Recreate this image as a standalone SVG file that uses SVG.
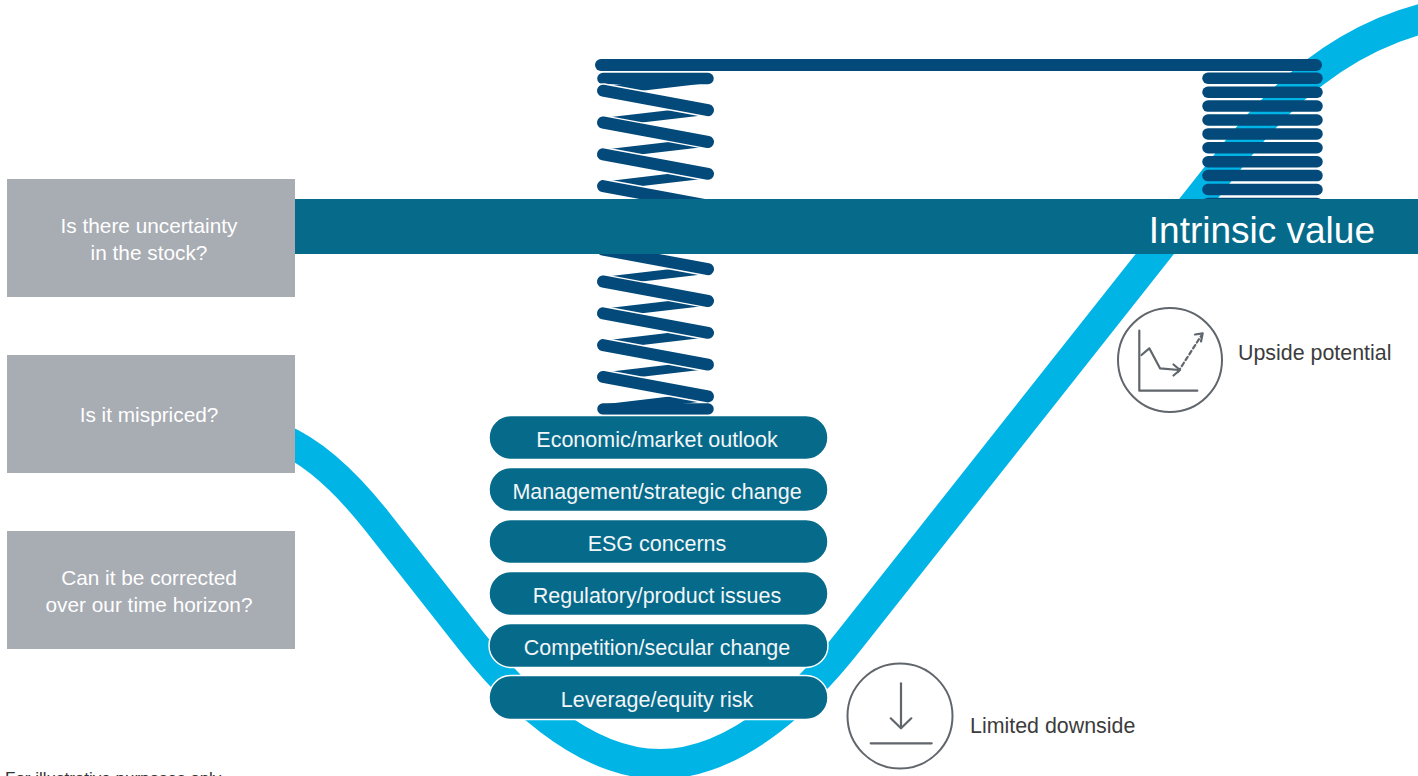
<svg xmlns="http://www.w3.org/2000/svg" width="1418" height="776" viewBox="0 0 1418 776">
  <style>
    .q { fill: #a8acb3; }
    .qt { font-family: "Liberation Sans", Arial, sans-serif; font-size: 20.8px; fill: #ffffff; text-anchor: middle; }
    .pill { fill: #066a8b; stroke: #ffffff; stroke-width: 1.5; }
    .pt { font-family: "Liberation Sans", Arial, sans-serif; font-size: 21.5px; fill: #f2f6f8; text-anchor: middle; }
    .front { stroke: #034a7a; stroke-width: 12; stroke-linecap: round; fill: none; }
    .halo { stroke: #ffffff; stroke-width: 15; stroke-linecap: round; fill: none; }
    .back { stroke: #034a7a; stroke-width: 9; stroke-linecap: butt; fill: none; }
    .coil { stroke: #034a7a; stroke-width: 11.5; stroke-linecap: round; fill: none; }
    .icon { stroke: #60666b; stroke-width: 2.2; fill: none; stroke-linecap: round; stroke-linejoin: round; }
    .lbl { font-family: "Liberation Sans", Arial, sans-serif; font-size: 21.4px; fill: #3c3c3c; }
  </style>
  <rect width="1418" height="776" fill="#ffffff"/>

  <g id="curve">
    <path d="M 280 438 Q 326 457 376 520 L 472 642 C 509 689 580 764 660 764 C 740 764 811 689 848 642 L 1237 150 Q 1320 45 1425 18" fill="none" stroke="#00b4e6" stroke-width="30"/>
  </g>

  <g id="left-spring">
    <line class="coil" x1="603" y1="78.5" x2="708" y2="78.5"/>
    <line class="back" x1="708" y1="78.5" x2="603" y2="90.7"/>
    <line class="back" x1="708" y1="110.2" x2="603" y2="122.5"/>
    <line class="back" x1="708" y1="142" x2="603" y2="154.3"/>
    <line class="back" x1="708" y1="173.8" x2="603" y2="186.1"/>
    <line class="back" x1="708" y1="205.6" x2="603" y2="217.9"/>
    <line class="back" x1="708" y1="237.4" x2="603" y2="249.7"/>
    <line class="back" x1="708" y1="269.2" x2="603" y2="281.5"/>
    <line class="back" x1="708" y1="301" x2="603" y2="313.3"/>
    <line class="back" x1="708" y1="332.8" x2="603" y2="345.1"/>
    <line class="back" x1="708" y1="364.6" x2="603" y2="376.9"/>
    <line class="back" x1="708" y1="396.4" x2="603" y2="409"/>
    <line class="halo" x1="603" y1="90.7" x2="708" y2="110.2"/>
    <line class="front" x1="603" y1="90.7" x2="708" y2="110.2"/>
    <line class="halo" x1="603" y1="122.5" x2="708" y2="142"/>
    <line class="front" x1="603" y1="122.5" x2="708" y2="142"/>
    <line class="halo" x1="603" y1="154.3" x2="708" y2="173.8"/>
    <line class="front" x1="603" y1="154.3" x2="708" y2="173.8"/>
    <line class="halo" x1="603" y1="186.1" x2="708" y2="205.6"/>
    <line class="front" x1="603" y1="186.1" x2="708" y2="205.6"/>
    <line class="halo" x1="603" y1="217.9" x2="708" y2="237.4"/>
    <line class="front" x1="603" y1="217.9" x2="708" y2="237.4"/>
    <line class="halo" x1="603" y1="249.7" x2="708" y2="269.2"/>
    <line class="front" x1="603" y1="249.7" x2="708" y2="269.2"/>
    <line class="halo" x1="603" y1="281.5" x2="708" y2="301"/>
    <line class="front" x1="603" y1="281.5" x2="708" y2="301"/>
    <line class="halo" x1="603" y1="313.3" x2="708" y2="332.8"/>
    <line class="front" x1="603" y1="313.3" x2="708" y2="332.8"/>
    <line class="halo" x1="603" y1="345.1" x2="708" y2="364.6"/>
    <line class="front" x1="603" y1="345.1" x2="708" y2="364.6"/>
    <line class="halo" x1="603" y1="376.9" x2="708" y2="396.4"/>
    <line class="front" x1="603" y1="376.9" x2="708" y2="396.4"/>
    <line class="coil" x1="603" y1="409" x2="708" y2="409" stroke-width="12"/>
  </g>

  <g id="right-spring">
    <line class="coil" x1="1208" y1="78.3" x2="1317" y2="78.3"/>
    <line class="coil" x1="1208" y1="92.2" x2="1317" y2="92.2"/>
    <line class="coil" x1="1208" y1="106.1" x2="1317" y2="106.1"/>
    <line class="coil" x1="1208" y1="120" x2="1317" y2="120"/>
    <line class="coil" x1="1208" y1="133.9" x2="1317" y2="133.9"/>
    <line class="coil" x1="1208" y1="147.8" x2="1317" y2="147.8"/>
    <line class="coil" x1="1208" y1="161.7" x2="1317" y2="161.7"/>
    <line class="coil" x1="1208" y1="175.6" x2="1317" y2="175.6"/>
    <line class="coil" x1="1208" y1="189.5" x2="1317" y2="189.5"/>
    <line class="coil" x1="1208" y1="203.4" x2="1317" y2="203.4"/>
  </g>

  <g id="top-bar">
    <line x1="601" y1="65" x2="1316" y2="65" stroke="#034a7a" stroke-width="12" stroke-linecap="round"/>
  </g>

  <g id="intrinsic-value">
    <rect x="295" y="199" width="1123" height="55" fill="#066a8b"/>
    <text x="1375" y="243" font-family="'Liberation Sans', Arial, sans-serif" font-size="37" fill="#ffffff" text-anchor="end">Intrinsic value</text>
  </g>

  <g id="factor-economic">
    <rect class="pill" x="489" y="415.5" width="339" height="44" rx="22"/>
    <text class="pt" x="657" y="446.5">Economic/market outlook</text>
  </g>
  <g id="factor-management">
    <rect class="pill" x="489" y="467.5" width="339" height="44" rx="22"/>
    <text class="pt" x="657" y="498.5">Management/strategic change</text>
  </g>
  <g id="factor-esg">
    <rect class="pill" x="489" y="519.5" width="339" height="44" rx="22"/>
    <text class="pt" x="657" y="550.5">ESG concerns</text>
  </g>
  <g id="factor-regulatory">
    <rect class="pill" x="489" y="571.5" width="339" height="44" rx="22"/>
    <text class="pt" x="657" y="602.5">Regulatory/product issues</text>
  </g>
  <g id="factor-competition">
    <rect class="pill" x="489" y="623.5" width="339" height="44" rx="22"/>
    <text class="pt" x="657" y="654.5">Competition/secular change</text>
  </g>
  <g id="factor-leverage">
    <rect class="pill" x="489" y="675.5" width="339" height="44" rx="22"/>
    <text class="pt" x="657" y="706.5">Leverage/equity risk</text>
  </g>

  <g id="q-uncertainty">
    <rect class="q" x="7" y="179" width="288" height="118"/>
    <text class="qt" x="149" y="233">Is there uncertainty</text>
    <text class="qt" x="149" y="260">in the stock?</text>
  </g>
  <g id="q-mispriced">
    <rect class="q" x="7" y="355" width="288" height="118"/>
    <text class="qt" x="149" y="422">Is it mispriced?</text>
  </g>
  <g id="q-corrected">
    <rect class="q" x="7" y="531" width="288" height="118"/>
    <text class="qt" x="149" y="585">Can it be corrected</text>
    <text class="qt" x="149" y="612">over our time horizon?</text>
  </g>

  <g id="upside-potential">
    <circle cx="1170" cy="360" r="52" fill="#ffffff" stroke="#60666b" stroke-width="2"/>
    <polyline class="icon" points="1139.3,330.7 1139.3,390.7 1197.3,390.7"/>
    <polyline class="icon" points="1141.5,355 1149.3,348.3 1160,368.3 1179,370"/>
    <polyline class="icon" points="1173.5,364.5 1180,370 1173.5,375.5"/>
    <line class="icon" x1="1178" y1="372" x2="1201" y2="336" stroke-dasharray="4,3"/>
    <polyline class="icon" points="1195,334.5 1202.7,333.3 1201,341.5"/>
    <text class="lbl" x="1238" y="360">Upside potential</text>
  </g>

  <g id="limited-downside">
    <circle cx="900" cy="716" r="52.5" fill="#ffffff" stroke="#60666b" stroke-width="2"/>
    <line class="icon" x1="901" y1="683.3" x2="901" y2="728"/>
    <polyline class="icon" points="890.7,718.3 901,728.3 911.3,718.3"/>
    <line class="icon" x1="870.7" y1="743.3" x2="931.7" y2="743.3"/>
    <text class="lbl" x="970" y="733">Limited downside</text>
  </g>

  <text x="5" y="784" font-family="'Liberation Sans', Arial, sans-serif" font-size="17" fill="#333333">For illustrative purposes only</text>
</svg>
